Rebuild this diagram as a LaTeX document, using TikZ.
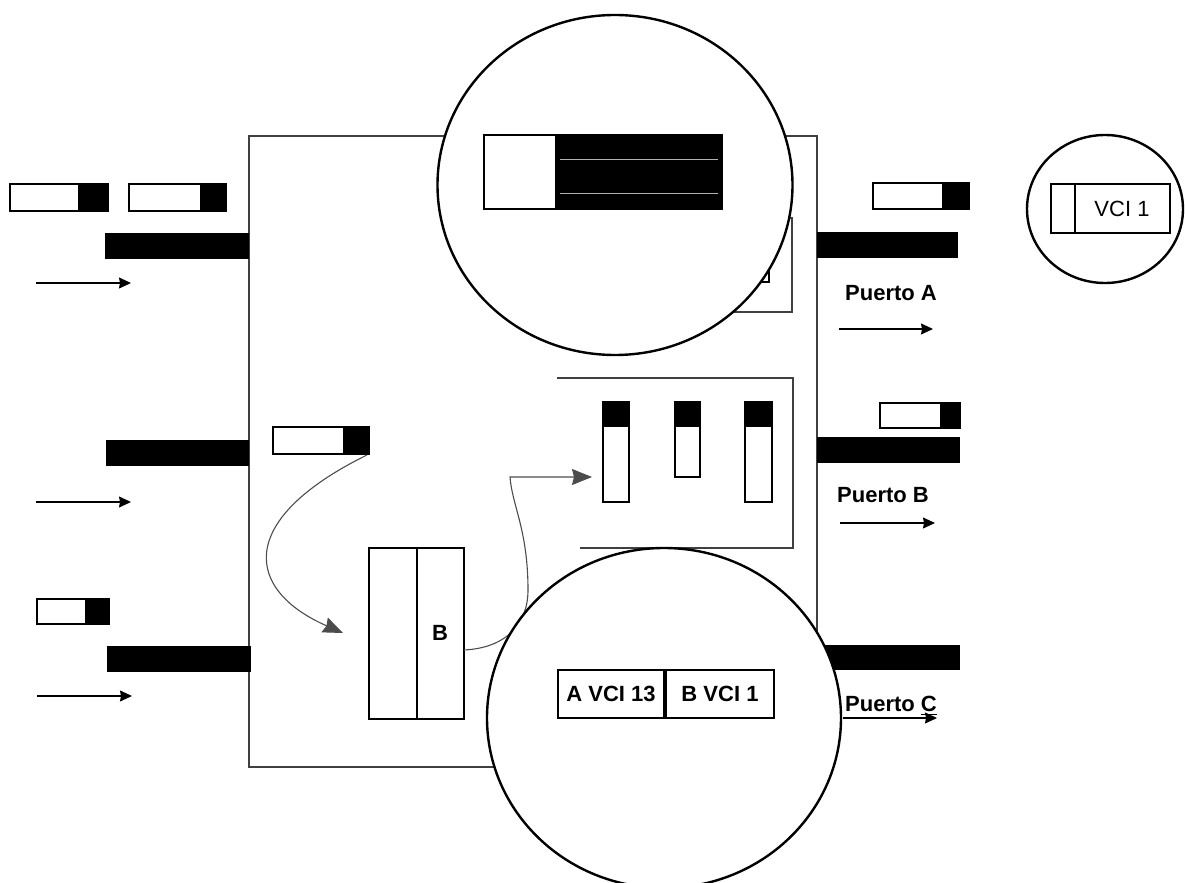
\documentclass[tikz,border=0pt]{standalone}
\usepackage{fontspec}
\setmainfont{Liberation Sans}
\usetikzlibrary{arrows.meta}
\begin{document}
\begin{tikzpicture}[x=0.5pt,y=-0.5pt,line width=1pt,
  every node/.style={font=\fontsize{11}{13}\selectfont\bfseries,inner sep=1pt},
  frame/.style={line width=0.7pt,draw=black!75},
  cell/.style={line width=1pt},
  ring/.style={line width=1.2pt,fill=white},
  arr/.style={line width=0.6pt,-{Stealth[length=6pt,width=5.5pt,inset=0.5pt]}},
  curvearr/.style={line width=0.55pt,draw=black!70,-{Stealth[length=10pt,width=8pt,inset=1pt]}}]
\useasboundingbox (0,0) rectangle (1185,883);
% arrow ends
\coordinate (L1) at (36,283);
\coordinate (L1e) at (131,283);
\coordinate (L2) at (36,502);
\coordinate (L2e) at (131,502);
\coordinate (L3) at (37,696);
\coordinate (L3e) at (132,696);
\coordinate (RA) at (839,329);
\coordinate (RAe) at (933,329);
\coordinate (RB) at (840,523);
\coordinate (RBe) at (935,523);
\coordinate (RC) at (843,718);
\coordinate (RCe) at (937,718);
\coordinate (S) at (367,455);
\coordinate (T) at (343,633);
\coordinate (U) at (464,650);
\coordinate (V) at (592,477);
% switch frame and hidden parts
\draw[frame] (249,136) rectangle (817,767);
\draw[frame] (640,218) rectangle (792,312);
\draw[line width=0.7pt] (748,262) rectangle (769,282);
\draw[frame] (557,378) -- (793,378) -- (793,548) -- (580,548);
% input ports
\fill (105,233) rectangle (249,259);
\fill (106,440) rectangle (249,466);
\fill (107,646) rectangle (251,672);
\fill (78,184) rectangle (108,211);
\draw[cell] (10,184) rectangle (108,211);
\fill (200,184) rectangle (226,211);
\draw[cell] (129,184) rectangle (226,211);
\fill (85,599) rectangle (109,624);
\draw[cell] (37,599) rectangle (109,624);
\draw[arr] (L1) -- (L1e);
\draw[arr] (L2) -- (L2e);
\draw[arr] (L3) -- (L3e);
% output ports
\fill (817,232) rectangle (958,258);
\fill (817,437) rectangle (960,463);
\fill (817,645) rectangle (960,670);
\fill (942,183) rectangle (969,209);
\draw[cell] (873,183) rectangle (969,209);
\fill (940,403) rectangle (960,428);
\draw[cell] (880,403) rectangle (960,428);
\draw[arr] (RA) -- (RAe);
\draw[arr] (RB) -- (RBe);
\draw[arr] (RC) -- (RCe);
\node[anchor=base] (pA) at (891,300) {Puerto A};
\node[anchor=base] (pB) at (883,502) {Puerto B};
\node[anchor=base] (pC) at (891,711) {Puerto \underline{C}};
% cell inside the switch
\fill (343,427) rectangle (369,454);
\draw[cell] (273,427) rectangle (369,454);
\draw[curvearr] (S) .. controls (235,520) and (245,590) .. (T);
% buffer
\draw[cell] (369,548) rectangle (464,719);
\draw[cell] (417,548) -- (417,719);
\node (b) at (440,633) {B};
\draw[curvearr] (U) .. controls (505,648) and (528,625) .. (528,590)
  .. controls (528,530) and (512,505) .. (510,477) -- (V);
% output queue
\fill (603,402) rectangle (629,427);
\draw[cell] (603,402) rectangle (629,502);
\fill (675,402) rectangle (700,427);
\draw[cell] (675,402) rectangle (700,477);
\fill (745,402) rectangle (772,427);
\draw[cell] (745,402) rectangle (772,502);
% zoom circles
\draw[ring] (615,185) ellipse[x radius=177.5,y radius=170];
\fill (555,135) rectangle (722,209);
\draw[cell] (484,135) rectangle (722,209);
\draw[white!70!black,line width=0.4pt] (560,159) -- (718,159);
\draw[white!70!black,line width=0.4pt] (560,193) -- (718,193);
\draw[ring] (664,718) ellipse[x radius=177,y radius=170];
\node[draw,line width=1pt,minimum width=53pt,minimum height=24pt] (vA) at (611,694) {A VCI 13};
\node[draw,line width=1pt,minimum width=54pt,minimum height=24pt,anchor=west] (vB) at (vA.east) {B VCI 1};
\draw[ring] (1105,209) ellipse[x radius=78,y radius=74];
\draw[cell] (1051,184) rectangle (1170,233);
\draw[cell] (1075,184) -- (1075,233);
\node[font=\fontsize{11}{13}\selectfont] (v1) at (1122,209) {VCI 1};
\end{tikzpicture}
\end{document}
